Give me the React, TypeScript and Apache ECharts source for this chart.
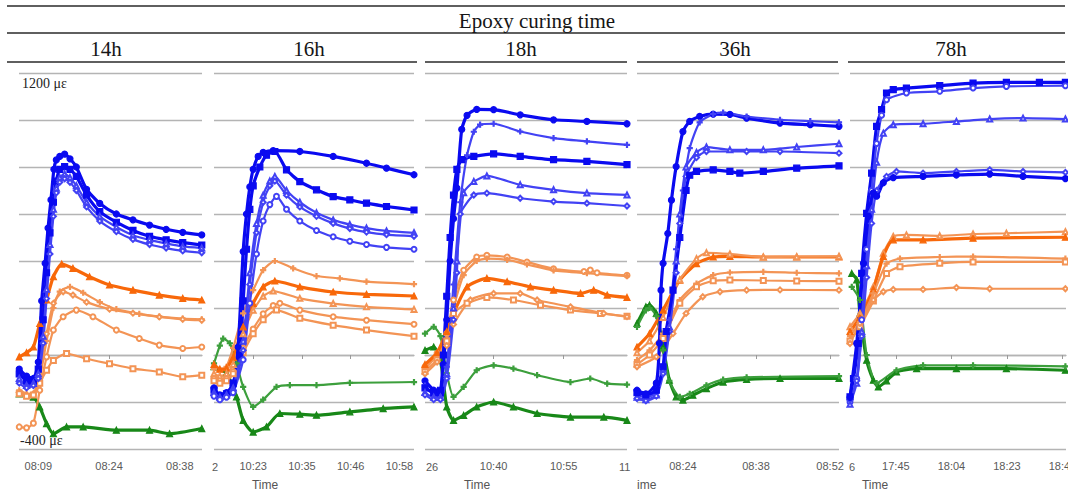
import { useEffect, useRef } from 'react';
import * as echarts from 'echarts';

type Pt = [number, number];
type Mark =
  | 'circle'
  | 'rect'
  | 'triangle'
  | 'emptyTriangle'
  | 'emptyDiamond'
  | 'emptyCircle'
  | 'emptyRect'
  | 'plus';

// Strain in µε, time in minutes from each panel's first labelled tick.
const panelTitles = ['14h', '16h', '18h', '36h', '78h'];

// ---- 14h ----
const ticks14 = [0, 14.5, 29];
const tickLabels14 = ['08:09', '08:24', '08:38'];
const span14: Pt = [-3.95, 33.55];
const blue14: Pt[][] = [
  [[-3.9, -60], [-2.4, -90], [-1.0, -100], [0.0, -30], [0.7, 230], [1.4, 390], [2.0, 540], [2.6, 660], [3.2, 790], [3.7, 830], [4.4, 845], [5.4, 855], [6.5, 835], [7.8, 800], [9.9, 705], [12.6, 645], [16.0, 600], [19.4, 575], [22.8, 553], [26.2, 535], [29.6, 522], [33.5, 511]],
  [[-3.9, -80], [-2.4, -110], [-1.0, -120], [0.0, -60], [1.0, 150], [1.7, 350], [2.4, 520], [3.1, 650], [3.7, 740], [4.4, 790], [5.4, 802], [6.5, 790], [7.8, 760], [9.9, 680], [12.6, 610], [16.0, 565], [19.4, 530], [22.8, 505], [26.2, 490], [29.6, 478], [33.5, 468]],
  [[-3.9, -100], [-2.4, -130], [-1.0, -120], [0.0, -80], [1.0, 80], [1.7, 280], [2.4, 470], [3.1, 620], [3.7, 710], [4.4, 755], [5.4, 770], [6.5, 755], [7.8, 720], [9.9, 650], [12.6, 590], [16.0, 545], [19.4, 510], [22.8, 490], [26.2, 475], [29.6, 462], [33.5, 455]],
  [[-3.9, -120], [-2.4, -140], [-1.0, -130], [0.0, -100], [1.0, 50], [1.7, 240], [2.4, 430], [3.1, 590], [3.7, 690], [4.4, 735], [5.4, 750], [6.5, 735], [7.8, 700], [9.9, 630], [12.6, 570], [16.0, 525], [19.4, 492], [22.8, 470], [26.2, 455], [29.6, 443], [33.5, 435]],
];
const blueMarks14: Mark[] = ['circle', 'rect', 'emptyTriangle', 'emptyDiamond'];
const orange14: Pt[][] = [
  [[-3.9, -8], [-2.4, 10], [-1.0, 34], [0.3, 134], [1.7, 234], [3.1, 333], [4.8, 387], [7.1, 369], [10.5, 333], [14.6, 298], [19.4, 276], [24.8, 255], [29.6, 241], [33.5, 234]],
  [[-3.9, -150], [-2.4, -165], [-1.0, -170], [0.3, -100], [1.7, 60], [3.1, 200], [4.4, 270], [6.5, 290], [9.2, 265], [12.6, 225], [16.0, 195], [20.7, 175], [24.8, 163], [29.6, 155], [33.5, 152]],
  [[-3.9, -160], [-2.4, -170], [-1.0, -165], [0.3, -80], [1.7, 90], [3.1, 220], [5.1, 269], [7.1, 255], [9.9, 225], [14.6, 195], [19.4, 178], [24.8, 162], [29.6, 152], [33.5, 148]],
  [[-3.9, -306], [-2.4, -310], [-1.0, -290], [0.3, -150], [1.7, -8], [3.1, 106], [5.1, 163], [7.8, 191], [11.2, 163], [16.0, 106], [20.7, 70], [24.8, 42], [29.6, 28], [33.5, 34]],
  [[-3.9, -165], [-2.4, -175], [-1.0, -170], [0.3, -120], [1.7, -65], [3.1, -23], [5.8, 6], [9.9, -16], [14.6, -37], [19.4, -58], [24.8, -72], [29.6, -93], [33.5, -86]],
];
const orangeMarks14: Mark[] = ['triangle', 'plus', 'emptyDiamond', 'emptyCircle', 'emptyRect'];
const green14: Pt[][] = [
  [[-3.9, -165], [-1.0, -179], [0.3, -221], [1.7, -292], [3.1, -335], [5.8, -306], [9.2, -306], [16.0, -320], [22.8, -320], [26.9, -335], [33.5, -313]],
];
const greenMarks14: Mark[] = ['triangle'];

// ---- 16h ----
const ticks16 = [0, 11.7, 23.4, 35.1];
const tickLabels16 = ['10:23', '10:35', '10:46', '10:58'];
const span16: Pt = [-9.4, 38.6];
const blue16: Pt[][] = [
  [[-9.4, -140], [-8.0, -170], [-6.4, -160], [-4.8, -130], [-3.6, 34], [-2.4, 440], [-1.6, 600], [-0.8, 715], [0, 790], [1.2, 845], [2.4, 862], [4.8, 870], [11.2, 866], [19.2, 845], [27.2, 816], [32.0, 795], [38.6, 767]],
  [[-9.4, -150], [-8.0, -175], [-6.4, -165], [-4.8, -120], [-3.2, 0], [-2.4, 230], [-1.6, 450], [-0.8, 620], [0, 720], [1.6, 800], [3.2, 850], [5.2, 866], [8.0, 788], [11.2, 738], [15.2, 703], [19.2, 674], [23.2, 660], [27.2, 646], [32.0, 632], [38.6, 617]],
  [[-9.4, -160], [-8.0, -180], [-6.4, -170], [-4.8, -140], [-2.4, 60], [-0.8, 350], [0.8, 560], [2.4, 680], [4.0, 740], [5.2, 760], [8.0, 700], [11.2, 650], [15.2, 605], [19.2, 575], [23.2, 555], [27.2, 540], [32.0, 528], [38.6, 520]],
  [[-9.4, -170], [-8.0, -185], [-6.4, -175], [-4.8, -150], [-2.4, 20], [-0.8, 300], [0.8, 520], [2.4, 650], [4.0, 720], [5.2, 740], [8.0, 680], [11.2, 630], [15.2, 590], [19.2, 560], [23.2, 538], [27.2, 523], [32.0, 512], [38.6, 505]],
  [[-9.4, -175], [-8.0, -190], [-6.4, -180], [-4.8, -160], [-2.4, -20], [-0.8, 220], [0.8, 430], [2.4, 570], [4.0, 640], [5.6, 675], [8.0, 620], [11.2, 570], [15.2, 530], [19.2, 503], [23.2, 484], [27.2, 470], [32.0, 458], [38.6, 450]],
];
const blueMarks16: Mark[] = ['circle', 'rect', 'emptyTriangle', 'emptyDiamond', 'emptyCircle'];
const orange16: Pt[][] = [
  [[-9.4, -60], [-8.0, -70], [-6.4, -50], [-4.8, 30], [-2.4, 177], [0, 276], [2.4, 361], [5.2, 400], [9.6, 369], [15.2, 336], [20.8, 326], [27.2, 312], [38.6, 302]],
  [[-9.4, -40], [-8.0, -60], [-6.4, -55], [-4.8, -10], [-2.4, 120], [0, 220], [2.4, 290], [5.2, 315], [11.2, 290], [19.2, 268], [27.2, 258], [38.6, 251]],
  [[-9.4, -80], [-8.0, -90], [-6.4, -80], [-4.8, -40], [-2.4, 90], [0, 190], [2.4, 250], [4.8, 272], [11.2, 241], [19.2, 219], [27.2, 205], [38.6, 194]],
  [[-9.4, -100], [-8.0, -110], [-6.4, -100], [-4.8, -70], [-2.4, 30], [0, 110], [2.4, 175], [4.8, 210], [6.4, 220], [11.2, 191], [19.2, 163], [27.2, 148], [38.6, 131]],
  [[-9.4, -110], [-8.0, -120], [-6.4, -110], [-4.8, -80], [-2.4, 10], [0, 90], [2.4, 150], [5.6, 191], [11.2, 156], [19.2, 127], [27.2, 106], [38.6, 80]],
];
const orangeMarks16: Mark[] = ['plus', 'triangle', 'emptyTriangle', 'emptyCircle', 'emptyRect'];
const green16: Pt[][] = [
  [[-9.4, -36], [-8.0, 40], [-7.2, 70], [-5.6, 50], [-4.0, -36], [-2.4, -136], [0, -221], [2.4, -190], [5.6, -136], [8.8, -128], [15.2, -128], [23.2, -119], [38.6, -115]],
  [[-9.4, -50], [-6.4, -78], [-4.0, -178], [-2.4, -278], [0, -328], [3.2, -306], [6.4, -249], [11.2, -252], [15.2, -256], [23.2, -242], [31.2, -228], [38.6, -221]],
];
const greenMarks16: Mark[] = ['plus', 'triangle'];

// ---- 18h ----
const ticks18 = [0, 14.5];
const tickLabels18 = ['10:40', '10:55'];
const span18: Pt = [-14.2, 27.6];
const blue18: Pt[][] = [
  [[-14.2, -110], [-12.4, -150], [-11.0, -170], [-10.4, -40], [-9.7, 150], [-9.0, 400], [-8.3, 580], [-7.6, 710], [-6.6, 960], [-5.5, 1020], [-3.5, 1045], [0, 1044], [5.5, 1022], [12.4, 1001], [19.3, 994], [27.6, 984]],
  [[-14.2, -130], [-12.4, -170], [-11.0, -180], [-9.7, -50], [-8.3, 300], [-6.9, 650], [-5.5, 850], [-4.1, 950], [-2.8, 980], [0, 984], [5.5, 951], [12.4, 923], [19.3, 909], [27.6, 894]],
  [[-14.2, -140], [-12.4, -160], [-11.0, -150], [-10.4, 0], [-9.7, 250], [-9.0, 500], [-8.3, 680], [-7.6, 790], [-6.6, 831], [-4.1, 845], [0, 856], [5.5, 845], [12.4, 831], [19.3, 824], [27.6, 810]],
  [[-14.2, -160], [-12.4, -180], [-11.0, -180], [-9.7, -80], [-8.3, 200], [-7.6, 400], [-6.2, 690], [-4.1, 738], [-1.4, 762], [5.5, 724], [12.4, 703], [19.3, 689], [27.6, 681]],
  [[-14.2, -170], [-12.4, -190], [-11.0, -190], [-9.7, -100], [-8.3, 150], [-7.6, 350], [-6.9, 600], [-4.1, 681], [-1.4, 689], [5.5, 667], [12.4, 653], [19.3, 646], [27.6, 634]],
];
const blueMarks18: Mark[] = ['circle', 'plus', 'rect', 'emptyTriangle', 'emptyDiamond'];
const orange18: Pt[][] = [
  [[-14.2, -50], [-11.7, 7], [-9.7, 91], [-8.3, 234], [-6.2, 361], [-3.5, 417], [-1.4, 424], [2.8, 417], [6.9, 396], [12.4, 367], [18.7, 355], [20.0, 362], [21.4, 350], [27.6, 339]],
  [[-14.2, -60], [-11.7, 0], [-9.7, 70], [-8.3, 200], [-6.2, 340], [-3.5, 400], [-1.4, 410], [2.8, 405], [6.9, 385], [12.4, 360], [19.3, 348], [27.6, 336]],
  [[-14.2, -40], [-11.7, 10], [-9.7, 100], [-8.3, 177], [-5.5, 290], [-1.4, 326], [2.8, 312], [7.6, 290], [12.4, 276], [18.0, 262], [20.7, 276], [23.5, 255], [27.6, 245]],
  [[-14.2, -70], [-11.7, -20], [-9.7, 60], [-8.3, 177], [-5.5, 220], [-1.4, 245], [4.1, 234], [9.7, 212], [15.9, 191], [22.1, 177], [27.6, 165]],
  [[-14.2, -80], [-11.7, -30], [-9.7, 40], [-8.3, 130], [-4.8, 234], [0, 262], [5.5, 262], [9.0, 234], [15.9, 205], [22.8, 177], [27.6, 163]],
];
const orangeMarks18: Mark[] = ['emptyCircle', 'plus', 'triangle', 'emptyRect', 'emptyDiamond'];
const green18: Pt[][] = [
  [[-14.2, 91], [-12.4, 120], [-11.0, 80], [-9.7, -78], [-8.3, -178], [-6.2, -136], [-3.5, -65], [0, -44], [4.1, -58], [9.0, -86], [15.9, -115], [20.0, -100], [23.5, -122], [27.6, -126]],
  [[-14.2, 20], [-12.4, 34], [-11.0, -22], [-9.7, -221], [-8.3, -278], [-6.2, -257], [-3.5, -221], [0, -200], [4.1, -221], [9.0, -249], [15.9, -264], [22.8, -264], [27.6, -278]],
];
const greenMarks18: Mark[] = ['plus', 'triangle'];

// ---- 36h ----
const ticks36 = [0, 14, 28.2];
const tickLabels36 = ['08:24', '08:38', '08:52'];
const span36: Pt = [-8.8, 29.9];
const blue36: Pt[][] = [
  [[-8.8, -150], [-7.1, -165], [-5.1, -120], [-4.5, 50], [-4.2, 276], [-3.8, 390], [-2.9, 517], [-2.2, 659], [-1.3, 802], [0, 951], [1.3, 994], [3.2, 1015], [5.8, 1025], [9.0, 1024], [12.2, 1008], [18.6, 987], [24.4, 980], [29.9, 973]],
  [[-8.8, -170], [-7.1, -180], [-5.1, -160], [-3.8, -50], [-2.6, 150], [-1.3, 450], [0, 700], [1.3, 880], [3.2, 990], [5.8, 1025], [7.7, 1031], [12.2, 1015], [18.6, 1001], [24.4, 995], [29.9, 990]],
  [[-8.8, -180], [-7.1, -190], [-5.1, -170], [-3.8, -60], [-2.6, 120], [-1.3, 400], [-0.6, 600], [0.6, 800], [2.6, 862], [4.5, 885], [9.0, 873], [15.4, 873], [21.8, 885], [29.9, 899]],
  [[-8.8, -185], [-7.1, -195], [-5.1, -175], [-3.8, -80], [-2.6, 100], [-1.3, 350], [-0.6, 560], [0.6, 760], [2.6, 840], [4.5, 866], [12.2, 866], [18.6, 866], [29.9, 859]],
  [[-8.8, -160], [-7.1, -170], [-5.1, -150], [-3.8, -50], [-3.2, 100], [-1.9, 276], [-0.6, 500], [0.6, 700], [1.3, 765], [2.6, 781], [5.8, 788], [9.0, 781], [10.9, 774], [15.4, 781], [21.8, 795], [29.9, 805]],
];
const blueMarks36: Mark[] = ['circle', 'plus', 'emptyTriangle', 'emptyDiamond', 'rect'];
const orange36: Pt[][] = [
  [[-8.8, 34], [-6.4, 91], [-3.8, 191], [-0.6, 319], [2.6, 389], [5.8, 417], [9.0, 420], [15.4, 417], [21.8, 417], [29.9, 417]],
  [[-8.8, 10], [-6.4, 60], [-3.8, 160], [-0.6, 320], [2.6, 410], [4.5, 435], [9.0, 430], [15.4, 417], [21.8, 418], [29.9, 420]],
  [[-8.8, -22], [-6.4, 20], [-3.8, 91], [-0.6, 234], [2.6, 304], [5.8, 340], [9.0, 351], [15.4, 354], [21.8, 350], [29.9, 347]],
  [[-8.8, -40], [-6.4, 0], [-3.8, 70], [-0.6, 220], [2.6, 290], [5.8, 316], [9.0, 319], [15.4, 317], [21.8, 315], [29.9, 314]],
  [[-8.8, -50], [-5.1, -8], [-1.9, 91], [0.6, 177], [3.8, 248], [7.1, 269], [12.2, 276], [18.6, 277], [29.9, 276]],
];
const orangeMarks36: Mark[] = ['triangle', 'emptyTriangle', 'plus', 'emptyRect', 'emptyDiamond'];
const green36: Pt[][] = [
  [[-8.8, 134], [-7.1, 205], [-6.4, 212], [-5.1, 177], [-3.8, 34], [-2.6, -107], [-1.3, -178], [0, -192], [1.9, -171], [4.5, -143], [7.7, -115], [12.2, -104], [18.6, -100], [29.9, -100]],
  [[-8.8, 120], [-7.1, 190], [-6.4, 200], [-5.1, 165], [-3.8, 20], [-2.6, -110], [-0.6, -178], [1.3, -165], [4.5, -129], [7.7, -105], [12.2, -95], [29.9, -90]],
];
const greenMarks36: Mark[] = ['triangle', 'plus'];

// ---- 78h ----
const ticks78 = [0, 19, 38, 57];
const tickLabels78 = ['17:45', '18:04', '18:23', '18:42'];
const span78: Pt = [-15.7, 58.2];
const blue78: Pt[][] = [
  [[-15.7, -178], [-14.5, -100], [-12.9, 49], [-11.7, 347], [-10.0, 603], [-8.3, 774], [-6.6, 973], [-4.9, 1044], [-3.2, 1115], [-0.9, 1129], [3.6, 1136], [15.0, 1146], [26.4, 1157], [37.8, 1160], [49.1, 1160], [58.0, 1160]],
  [[-15.7, -200], [-13.4, -100], [-11.7, 150], [-10.0, 450], [-8.3, 700], [-6.6, 900], [-4.9, 1020], [-3.2, 1086], [3.6, 1115], [15.0, 1122], [26.4, 1136], [37.8, 1143], [58.0, 1146]],
  [[-15.7, -210], [-13.4, -120], [-11.7, 100], [-10.0, 380], [-8.3, 620], [-6.6, 820], [-4.3, 944], [-0.9, 980], [9.3, 984], [20.7, 994], [32.1, 1004], [43.5, 1008], [58.0, 1004]],
  [[-15.7, -190], [-13.4, -110], [-11.7, 80], [-10.0, 330], [-8.3, 560], [-6.6, 700], [-3.2, 760], [0.2, 781], [9.3, 774], [20.7, 781], [32.1, 788], [43.5, 781], [58.0, 777]],
  [[-15.7, -180], [-13.4, 49], [-11.1, 390], [-9.4, 590], [-7.7, 690], [-6.6, 676], [-4.3, 733], [-0.9, 755], [9.3, 760], [20.7, 766], [32.1, 770], [43.5, 760], [58.0, 751]],
];
const blueMarks78: Mark[] = ['rect', 'emptyCircle', 'emptyTriangle', 'emptyDiamond', 'circle'];
const orange78: Pt[][] = [
  [[-15.7, 120], [-12.3, 177], [-7.7, 290], [-4.3, 433], [-0.9, 504], [3.6, 511], [15.0, 507], [26.4, 515], [37.8, 518], [58.0, 525]],
  [[-15.7, 100], [-12.3, 160], [-7.7, 280], [-4.3, 420], [-0.9, 490], [9.3, 490], [26.4, 497], [58.0, 501]],
  [[-15.7, 80], [-12.3, 140], [-7.7, 262], [-3.2, 389], [1.4, 410], [15.0, 417], [26.4, 419], [58.0, 410]],
  [[-15.7, 60], [-12.3, 120], [-7.7, 230], [-3.2, 347], [1.4, 376], [15.0, 390], [26.4, 396], [58.0, 396]],
  [[-15.7, 49], [-12.3, 134], [-7.7, 234], [-4.3, 269], [-0.9, 279], [9.3, 279], [20.7, 287], [32.1, 282], [58.0, 282]],
];
const orangeMarks78: Mark[] = ['emptyTriangle', 'triangle', 'plus', 'emptyRect', 'emptyDiamond'];
const green78: Pt[][] = [
  [[-15.1, 347], [-13.4, 320], [-12.3, 177], [-10.0, -22], [-7.7, -107], [-6.0, -136], [-3.2, -110], [0.2, -72], [7.1, -58], [20.7, -58], [37.8, -58], [58.0, -65]],
  [[-15.1, 290], [-12.3, 234], [-10.0, 0], [-6.6, -120], [0.2, -65], [9.3, -44], [26.4, -44], [58.0, -48]],
];
const greenMarks78: Mark[] = ['triangle', 'plus'];

// Strain axis shared by every panel
const strainMin = -400;
const strainMax = 1200;
const strainStep = 200;

// ---- layout ----
const gridLefts = [19, 214, 425, 637, 850];
const gridWidths = [183, 200, 202, 202, 216];
const gridTop = 73;
const gridHeight = 376;
const titleCenters = [106, 309, 521, 735, 951];

const PLUS_PATH = 'path://M4 0h2v4h4v2h-4v4h-2v-4h-4v-2h4z';
const PALETTE = {
  blue: { solid: '#0a0af0', open: '#4242f4' },
  orange: { solid: '#f8680a', open: '#f39455' },
  green: { solid: '#188818', open: '#3c9f3c' },
};

const panels = [
  { ticks: ticks14, labels: tickLabels14, span: span14, blue: blue14, bm: blueMarks14, orange: orange14, om: orangeMarks14, green: green14, gm: greenMarks14 },
  { ticks: ticks16, labels: tickLabels16, span: span16, blue: blue16, bm: blueMarks16, orange: orange16, om: orangeMarks16, green: green16, gm: greenMarks16 },
  { ticks: ticks18, labels: tickLabels18, span: span18, blue: blue18, bm: blueMarks18, orange: orange18, om: orangeMarks18, green: green18, gm: greenMarks18 },
  { ticks: ticks36, labels: tickLabels36, span: span36, blue: blue36, bm: blueMarks36, orange: orange36, om: orangeMarks36, green: green36, gm: greenMarks36 },
  { ticks: ticks78, labels: tickLabels78, span: span78, blue: blue78, bm: blueMarks78, orange: orange78, om: orangeMarks78, green: green78, gm: greenMarks78 },
];

function lineSeries(idx: number, data: Pt[], family: 'blue' | 'orange' | 'green', mark: Mark) {
  const solid = mark === 'circle' || mark === 'rect' || mark === 'triangle';
  const color = solid ? PALETTE[family].solid : PALETTE[family].open;
  return {
    type: 'line',
    xAxisIndex: idx,
    yAxisIndex: idx,
    data,
    smooth: 0.2,
    symbol: mark === 'plus' ? PLUS_PATH : mark,
    symbolSize: solid ? 6 : 5,
    itemStyle: { color, borderColor: color, borderWidth: 1.2 },
    lineStyle: { color, width: solid ? 3.2 : 2.2 },
    silent: true,
  };
}

const SERIF = '"Liberation Serif", "Times New Roman", serif';
const SANS = '"Liberation Sans", Arial, sans-serif';

function text(str: string, x: number, y: number, font: string, fill: string, align: string) {
  return {
    type: 'text',
    x,
    y,
    silent: true,
    style: {
      text: str,
      font,
      fill,
      align,
      verticalAlign: 'middle',
      textAlign: align,
      textVerticalAlign: 'middle',
    },
  };
}

function rule(x1: number, x2: number, y: number) {
  return {
    type: 'line',
    silent: true,
    shape: { x1, y1: y, x2, y2: y },
    style: { stroke: '#2a2a2a', lineWidth: 1.6 },
  };
}

export default function App() {
  const ref = useRef<HTMLDivElement>(null);

  useEffect(() => {
    if (!ref.current) return;
    const chart = echarts.init(ref.current, undefined, { renderer: 'svg' });

    const grid = panels.map((_, i) => ({
      left: gridLefts[i],
      top: gridTop,
      width: gridWidths[i],
      height: gridHeight,
      containLabel: false,
      outerBoundsMode: 'none',
    }));

    const xAxis = panels.map((p, i) => ({
      type: 'value',
      gridIndex: i,
      min: p.span[0],
      max: p.span[1],
      splitLine: { show: false },
      axisLine: { show: true, lineStyle: { color: '#b4b4b4', width: 1.3 } },
      axisTick: { show: true, customValues: p.ticks, length: 4, lineStyle: { color: '#9a9a9a' } },
      axisLabel: {
        customValues: p.ticks,
        color: '#5a5a5a',
        fontSize: 11,
        fontFamily: SANS,
        margin: 11,
        formatter: (v: number) => {
          const k = p.ticks.findIndex((t) => Math.abs(t - v) < 1e-6);
          return k >= 0 ? p.labels[k] : '';
        },
      },
    }));

    const yAxis = panels.map((_, i) => ({
      type: 'value',
      gridIndex: i,
      min: strainMin,
      max: strainMax,
      interval: strainStep,
      axisLabel: { show: false },
      axisLine: { show: false },
      axisTick: { show: false },
      splitLine: { show: true, lineStyle: { color: '#b4b4b4', width: 1.3 } },
    }));

    const series: any[] = [];
    panels.forEach((p, i) => {
      p.green.forEach((d, k) => series.push(lineSeries(i, d, 'green', p.gm[k])));
      p.orange.forEach((d, k) => series.push(lineSeries(i, d, 'orange', p.om[k])));
      p.blue.forEach((d, k) => series.push(lineSeries(i, d, 'blue', p.bm[k])));
    });

    const titleFont = `21px ${SERIF}`;
    const tickFont = `11px ${SANS}`;
    const nameFont = `12px ${SANS}`;

    const graphic: any[] = [
      rule(7, 1065, 6),
      rule(7, 1065, 33),
      rule(7, 417, 62),
      rule(425, 627, 62),
      rule(637, 838, 62),
      rule(848, 1065, 62),
      text('Epoxy curing time', 537, 21, titleFont, '#151515', 'center'),
      ...panelTitles.map((t, i) => text(t, titleCenters[i], 49, titleFont, '#151515', 'center')),
      text('1200 με', 22, 83, `14px ${SERIF}`, '#222', 'left'),
      text('-400 με', 20, 440, `14px ${SERIF}`, '#222', 'left'),
      // partly visible tick labels at the panel edges
      text('2', 212, 467, tickFont, '#5a5a5a', 'left'),
      text('26', 426, 467, tickFont, '#5a5a5a', 'left'),
      text('11', 619, 467, tickFont, '#5a5a5a', 'left'),
      text('6', 849, 467, tickFont, '#5a5a5a', 'left'),
      // time axis names
      text('Time', 265, 485, nameFont, '#555', 'center'),
      text('Time', 477, 485, nameFont, '#555', 'center'),
      text('ime', 637, 485, nameFont, '#555', 'left'),
      text('Time', 875, 485, nameFont, '#555', 'center'),
    ];

    chart.setOption({
      animation: false,
      backgroundColor: '#ffffff',
      grid,
      xAxis,
      yAxis,
      series,
      graphic,
    });

    return () => chart.dispose();
  }, []);

  return (
    <div
      ref={ref}
      style={{ position: 'absolute', left: 0, top: 0, width: 1068, height: 501 }}
    />
  );
}
